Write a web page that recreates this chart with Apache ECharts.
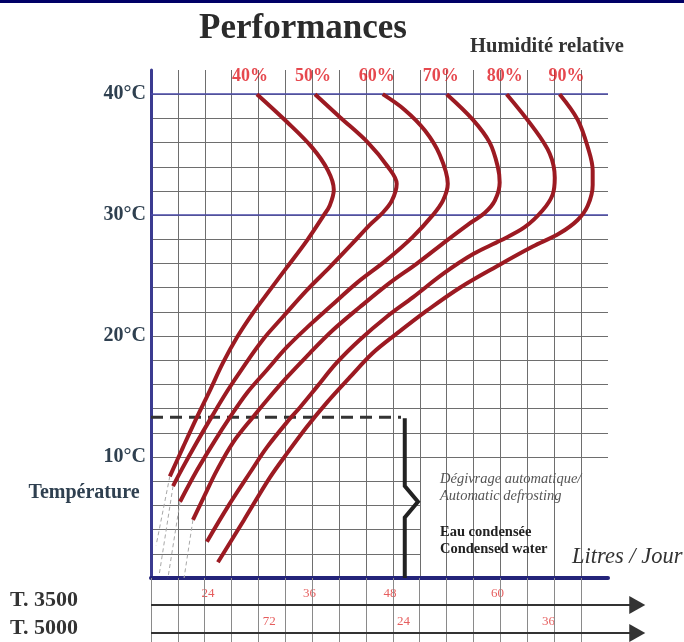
<!DOCTYPE html>
<html><head><meta charset="utf-8">
<script src="https://cdn.jsdelivr.net/npm/echarts@6/dist/echarts.min.js"></script>
<style>html,body{margin:0;padding:0;background:#fff}#c{width:684px;height:642px}</style>
</head><body><div id="c"></div>
<script>
// ---------- data ----------
const humidity = ['40%', '50%', '60%', '70%', '80%', '90%'];
// [x in graduations, temperature °C]
const curve40 = [[3.94,40.0],[5.06,37.7],[5.99,35.6],[6.58,33.7],[6.80,32.1],[6.65,30.8],[6.43,30.0],[5.80,27.9],[5.06,25.7],[4.42,23.8],[3.79,21.9],[3.20,19.9],[2.68,17.8],[2.19,15.5],[1.71,13.3],[1.19,10.8],[0.70,8.4]];
const curve50 = [[6.10,40.0],[7.03,38.1],[8.07,36.0],[8.81,34.0],[9.14,32.6],[8.96,31.2],[8.62,30.2],[8.14,29.2],[7.51,27.7],[6.65,25.7],[5.80,23.8],[4.91,21.6],[4.16,19.7],[3.42,17.4],[2.85,15.5],[2.25,13.3],[1.70,11.2],[1.15,9.0],[0.82,7.6]];
const curve60 = [[8.62,40.0],[9.44,38.7],[10.19,37.0],[10.74,35.0],[11.04,32.6],[10.86,31.2],[10.48,30.0],[9.74,28.2],[8.77,26.3],[7.66,24.4],[6.65,22.4],[5.80,20.7],[5.06,19.1],[4.31,17.2],[3.57,15.3],[2.94,13.3],[2.36,11.3],[1.71,8.9],[1.08,6.3]];
const curve70 = [[11.00,40.0],[11.97,37.9],[12.60,36.0],[12.90,34.0],[12.97,32.7],[12.79,31.2],[12.42,30.2],[11.78,29.2],[11.00,27.9],[9.89,26.0],[8.88,24.4],[7.77,22.4],[6.77,20.5],[5.91,18.6],[5.06,16.6],[4.31,14.7],[3.79,13.3],[3.05,11.2],[2.45,8.9],[2.00,6.85],[1.56,4.8]];
const curve80 = [[13.23,40.0],[14.20,37.3],[14.83,35.1],[15.02,33.1],[14.94,31.7],[14.57,30.4],[13.9,29.0],[13.0,27.9],[12.0,26.8],[10.9,25.2],[9.74,23.2],[8.77,21.6],[7.77,19.7],[6.91,17.8],[6.17,15.8],[5.54,14.1],[5.14,13.1],[4.31,10.8],[3.68,8.7],[2.86,5.9],[2.08,3.0]];
const curve90 = [[15.20,40.0],[15.87,37.9],[16.25,35.6],[16.43,33.7],[16.43,32.5],[16.25,30.8],[15.87,29.6],[15.20,28.5],[14.20,27.4],[12.97,25.9],[11.49,24.0],[10.26,22.1],[9.14,20.2],[8.25,18.6],[7.40,16.6],[6.54,14.5],[5.80,12.5],[5.06,10.3],[4.42,8.3],[3.46,4.8],[2.49,1.3]];
// dashed extrapolations below the curve ends
const ext40 = [[0.70,8.4],[0.19,2.7]];
const ext50 = [[0.82,7.6],[0.30,0.2]];
const ext60 = [[1.08,6.3],[0.63,0.0]];
const ext70 = [[1.56,4.8],[1.23,0.0]];
// temperature axis labels
const tempLabels = [10, 20, 30, 40];
const majorTemps = [30, 40];
// defrost limit (dashed line) and bracket
const defrostLine = [[0, 13.3], [9.3, 13.3]];
const bracket = [[9.44,13.2],[9.44,7.6],[9.93,6.3],[9.44,5.0],[9.44,0]];
// blank note area (graduation / °C)
const noteArea = [[10.04, 0.68], [17, 9.92]];
// bottom scales
const rows = ['T. 3500', 'T. 5000'];
const scale3500Labels = ['24', '36', '48', '60'];
const scale3500Pos = [2.12, 5.9, 8.9, 12.9];
const scale5000Labels = ['72', '24', '36'];
const scale5000Pos = [4.4, 9.4, 14.8];
const gradTicks = [0,1,2,3,4,5,6,7,8,9,10,11,12,13,14,15,16];

// ---------- layout ----------
const SERIF = '"Liberation Serif", "Times New Roman", serif';
const curveColor = '#9c1a22';
const gridColor = '#6e6e6e';
const navy = '#24247a';
const rowY = [0.84, 1.72];   // arrow rows in the bottom strip (value axis 0..2)
const pctLabelOffsets = [-7, -2, -6, -6, -2, 7];

const curves = [curve40, curve50, curve60, curve70, curve80, curve90];
const exts = [ext40, ext50, ext60, ext70];

const series = [];
series.push({
  type: 'line', xAxisIndex: 0, yAxisIndex: 0, data: [], z: 2, silent: true,
  markLine: { silent: true, symbol: 'none', label: { show: false },
    lineStyle: { color: '#4a4aa8', width: 1.6, type: 'solid' },
    data: majorTemps.map(t => ({ yAxis: t })) },
  markArea: { silent: true, itemStyle: { color: '#ffffff', opacity: 1 }, label: { show: false },
    data: [[{ coord: noteArea[0] }, { coord: noteArea[1] }]] }
});
exts.forEach(e => series.push({
  type: 'line', data: e, showSymbol: false, silent: true, z: 3,
  lineStyle: { color: '#a8a8a8', width: 1, type: [4, 3] }
}));
curves.forEach((c, i) => series.push({
  type: 'line', name: humidity[i], data: c, smooth: 0.35, showSymbol: false,
  silent: true, z: 5, lineStyle: { color: curveColor, width: 4 }
}));
series.push({
  type: 'scatter', symbolSize: 1, z: 6, silent: true,
  itemStyle: { color: 'transparent' },
  data: curves.map((c, i) => ({ value: c[0], label: { offset: [pctLabelOffsets[i], 0] } })),
  label: { show: true, position: 'top', distance: 8,
    formatter: p => humidity[p.dataIndex],
    color: '#e01a22', fontFamily: SERIF, fontWeight: 'bold', fontSize: 18 }
});
series.push({
  type: 'line', data: defrostLine, showSymbol: false, silent: true, z: 4,
  lineStyle: { color: '#333', width: 3, type: [12, 7] }
});
series.push({
  type: 'line', data: bracket, showSymbol: false, silent: true, z: 4,
  lineStyle: { color: '#222', width: 4, join: 'miter' }
});
// bottom strip
series.push({
  type: 'scatter', xAxisIndex: 1, yAxisIndex: 1, symbolSize: 1, silent: true,
  itemStyle: { color: 'transparent' },
  data: scale3500Pos.map((x, i) => ({ value: [x, rowY[0]], name: scale3500Labels[i] }))
    .concat(scale5000Pos.map((x, i) => ({ value: [x, rowY[1]], name: scale5000Labels[i] }))),
  label: { show: true, position: 'inside', offset: [0, -11], formatter: p => p.name,
    color: '#e03535', fontFamily: SERIF, fontSize: 13 },
  markLine: { silent: true, label: { show: false },
    data: gradTicks.map(v => ({ xAxis: v, symbol: 'none', lineStyle: { color: '#8a8a8a', width: 1, type: 'solid' } }))
      .concat(rowY.map(y => [
        { coord: [0, y], symbol: 'none', lineStyle: { color: '#333', width: 2, type: 'solid' } },
        { coord: [18.1, y], symbol: 'triangle', symbolSize: [18, 16] }
      ])),
    symbol: 'none', lineStyle: { color: '#333', width: 2, type: 'solid' }, itemStyle: { color: '#111' } }
});

const option = {
  animation: false,
  backgroundColor: '#fff',
  grid: [
    { left: 151, right: 76, top: 70, bottom: 64 },
    { left: 151, right: 36, top: 578, bottom: 0 }
  ],
  xAxis: [
    { type: 'value', gridIndex: 0, min: 0, max: 17, interval: 1, z: 3,
      axisLine: { show: true, onZero: false, lineStyle: { color: navy, width: 4 } },
      axisTick: { show: false }, axisLabel: { show: false },
      splitLine: { show: true, showMinLine: false, showMaxLine: false, lineStyle: { color: gridColor, width: 1 } } },
    { type: 'value', gridIndex: 1, min: 0, max: 18.5, show: false }
  ],
  yAxis: [
    { type: 'value', gridIndex: 0, min: 0, max: 42, interval: 2,
      axisLine: { show: true, onZero: false, lineStyle: { color: '#3b3b90', width: 3 } },
      axisTick: { show: false },
      axisLabel: { show: true, margin: 5, formatter: v => tempLabels.includes(v) ? v + '°C' : '',
        color: '#2f4050', fontFamily: SERIF, fontWeight: 'bold', fontSize: 20 },
      splitLine: { show: true, showMinLine: false, showMaxLine: false, lineStyle: { color: gridColor, width: 1 } } },
    { type: 'value', gridIndex: 1, min: 0, max: 2, inverse: true, show: false }
  ],
  graphic: [
    { type: 'rect', shape: { x: 0, y: 0, width: 684, height: 3 }, style: { fill: '#000066' }, silent: true },
    { type: 'text', style: { text: 'Performances', x: 303, y: 29, textAlign: 'center', textVerticalAlign: 'middle',
        font: 'bold 35px "Liberation Serif"', fill: '#2b2b2b' } },
    { type: 'text', style: { text: 'Humidité relative', x: 547, y: 47, textAlign: 'center', textVerticalAlign: 'middle',
        font: 'bold 20.5px "Liberation Serif"', fill: '#333' } },
    { type: 'text', style: { text: 'Température', x: 84, y: 493, textAlign: 'center', textVerticalAlign: 'middle',
        font: 'bold 20px "Liberation Serif"', fill: '#2f4050' } },
    { type: 'text', z: 100, style: { text: 'Dégivrage automatique/', x: 440, y: 479, textAlign: 'left', textVerticalAlign: 'middle',
        font: 'italic 14.5px "Liberation Serif"', fill: '#555' } },
    { type: 'text', z: 100, style: { text: 'Automatic defrosting', x: 440, y: 496, textAlign: 'left', textVerticalAlign: 'middle',
        font: 'italic 14.5px "Liberation Serif"', fill: '#555' } },
    { type: 'text', z: 100, style: { text: 'Eau condensée', x: 440, y: 532, textAlign: 'left', textVerticalAlign: 'middle',
        font: 'bold 14.5px "Liberation Serif"', fill: '#222' } },
    { type: 'text', z: 100, style: { text: 'Condensed water', x: 440, y: 549, textAlign: 'left', textVerticalAlign: 'middle',
        font: 'bold 14.5px "Liberation Serif"', fill: '#222' } },
    { type: 'text', z: 100, style: { text: 'Litres / Jour', x: 572, y: 557, textAlign: 'left', textVerticalAlign: 'middle',
        font: 'italic 22.5px "Liberation Serif"', fill: '#333' } },
    { type: 'text', style: { text: rows[0], x: 10, y: 600, textAlign: 'left', textVerticalAlign: 'middle',
        font: 'bold 22px "Liberation Serif"', fill: '#333' } },
    { type: 'text', style: { text: rows[1], x: 10, y: 628, textAlign: 'left', textVerticalAlign: 'middle',
        font: 'bold 22px "Liberation Serif"', fill: '#333' } }
  ],
  series: series
};
const chart = echarts.init(document.getElementById('c'));
chart.setOption(option);
</script></body></html>
